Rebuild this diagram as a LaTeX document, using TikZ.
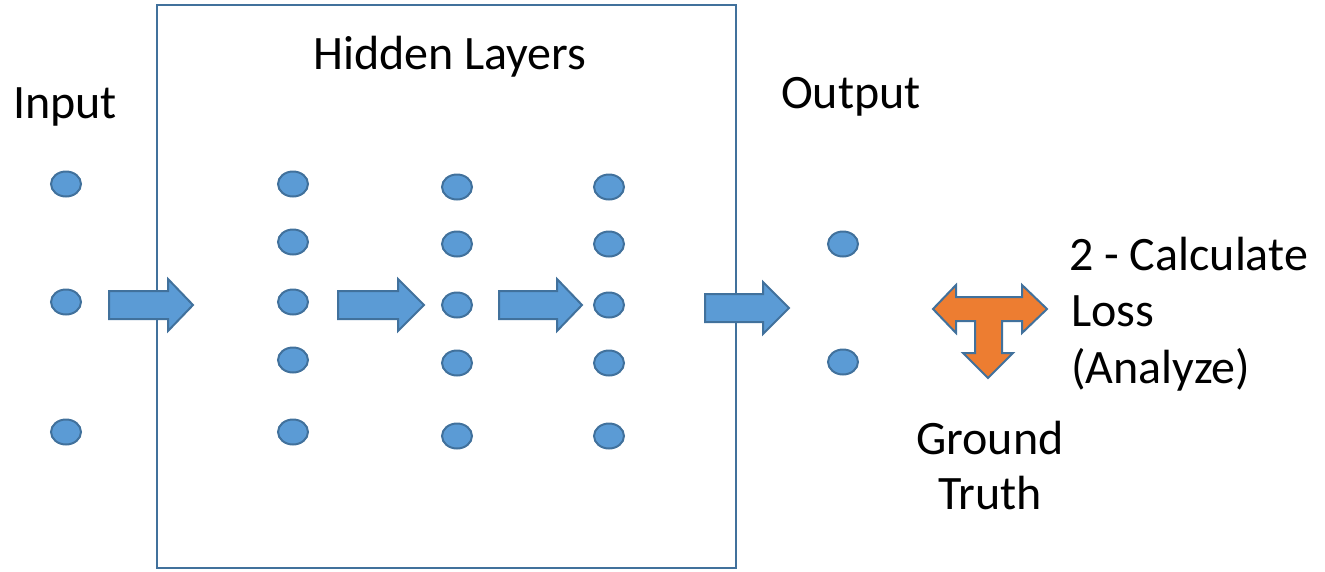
\documentclass[tikz,border=0pt]{standalone}
\usepackage{fontspec}
\setmainfont{Carlito}
\usetikzlibrary{shapes.geometric}
\definecolor{nodefill}{HTML}{5B9BD5}
\definecolor{nodeline}{HTML}{41719C}
\definecolor{orangefill}{HTML}{ED7D31}
\tikzset{
  neuron/.style={ellipse, draw=nodeline, line width=2pt, fill=nodefill, minimum width=30pt, minimum height=25pt, inner sep=0pt},
  lbl/.style={anchor=base west, inner sep=0pt, font=\fontsize{48}{56}\selectfont},
  lblc/.style={anchor=base, inner sep=0pt, font=\fontsize{48}{56}\selectfont},
  blockarrow/.style={draw=nodeline, line width=2pt, fill=nodefill, line join=miter},
}
% #1 start x, #2 head base x, #3 tip x, #4 center y
\newcommand{\rightblock}[4]{%
  \draw[blockarrow] (#1,#4-14) -- (#2,#4-14) -- (#2,#4-26) -- (#3,#4) -- (#2,#4+26) -- (#2,#4+14) -- (#1,#4+14) -- cycle;}
\begin{document}
\begin{tikzpicture}[x=1pt,y=-1pt]
\useasboundingbox (0,0) rectangle (1325,571);
% hidden layer frame
\draw[nodeline, line width=2pt] (157,5) rectangle (736,568);
% labels
\node[lbl] (tin) at (13,118) {Input};
\node[lbl] (thid) at (313,69) {Hidden Layers};
\node[lbl] (tout) at (781,108) {Output};
\node[lbl] (tl1) at (1069,270) {2 - Calculate};
\node[lbl] (tl2) at (1071,326) {Loss};
\node[lbl] (tl3) at (1071,383) {(Analyze)};
\node[lblc] (tg1) at (990,454) {Ground};
\node[lblc] (tg2) at (990,509) {Truth};
% input neurons
\node[neuron] (i1) at (66,184) {};
\node[neuron] (i2) at (66,302) {};
\node[neuron] (i3) at (66,432) {};
% hidden layer 1
\node[neuron] (a1) at (293,184) {};
\node[neuron] (a2) at (293,242) {};
\node[neuron] (a3) at (293,302) {};
\node[neuron] (a4) at (293,360) {};
\node[neuron] (a5) at (293,432) {};
% hidden layer 2
\node[neuron] (b1) at (457,187) {};
\node[neuron] (b2) at (457,244) {};
\node[neuron] (b3) at (457,305) {};
\node[neuron] (b4) at (457,363) {};
\node[neuron] (b5) at (457,436) {};
% hidden layer 3
\node[neuron] (c1) at (609,187) {};
\node[neuron] (c2) at (609,244) {};
\node[neuron] (c3) at (609,305) {};
\node[neuron] (c4) at (609,363) {};
\node[neuron] (c5) at (609,436) {};
% output
\node[neuron] (o1) at (843,244) {};
\node[neuron] (o2) at (843,362) {};
% block arrows
\rightblock{109}{168}{193}{305}
\rightblock{338}{398}{424}{305}
\rightblock{499}{557}{582}{305}
\rightblock{705}{763}{789}{308}
% T arrow
\draw[draw=nodeline, line width=2pt, fill=orangefill, line join=miter]
  (933,309) -- (956,285) -- (956,297) -- (1022,297) -- (1022,285) -- (1047,309)
  -- (1022,333) -- (1022,321) -- (1002,321) -- (1002,353) -- (1013,353) -- (988,378)
  -- (963,353) -- (975,353) -- (975,321) -- (956,321) -- (956,333) -- cycle;
\end{tikzpicture}
\end{document}
